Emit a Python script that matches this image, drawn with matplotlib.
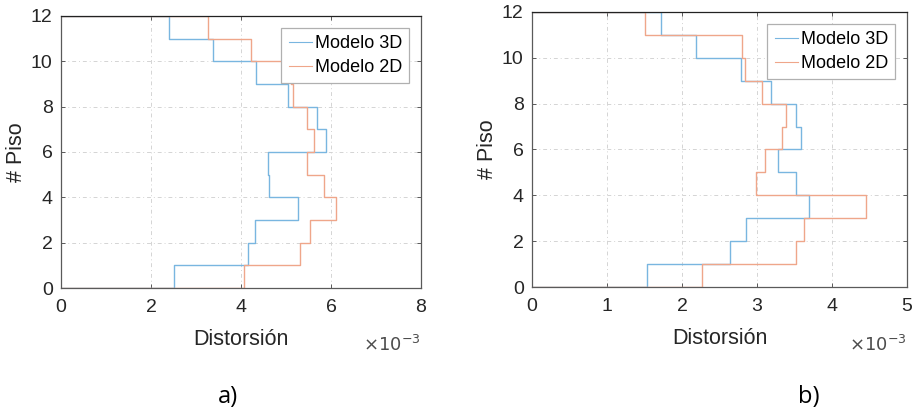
import numpy as np
import matplotlib
matplotlib.use("Agg")
import matplotlib.pyplot as plt

# Inter-story drift per floor (units of 1e-3), floors 1..12
floors = np.arange(0, 13)

drift_3d_a = [2.52, 4.15, 4.30, 5.27, 4.63, 4.59, 5.88, 5.68, 5.04, 4.33, 3.37, 2.39]
drift_2d_a = [4.07, 5.30, 5.53, 6.11, 5.84, 5.47, 5.63, 5.47, 5.16, 5.12, 4.22, 3.26]

drift_3d_b = [1.53, 2.64, 2.85, 3.69, 3.52, 3.28, 3.59, 3.52, 3.18, 2.79, 2.19, 1.72]
drift_2d_b = [2.27, 3.52, 3.63, 4.45, 2.98, 3.10, 3.33, 3.39, 3.07, 2.84, 2.80, 1.50]

series_labels = ["Modelo 3D", "Modelo 2D"]
x_ticks_a = [0, 2, 4, 6, 8]
x_ticks_b = [0, 1, 2, 3, 4, 5]
y_ticks = [0, 2, 4, 6, 8, 10, 12]
panel_tags = ["a)", "b)"]

plt.rcParams["font.family"] = ["Liberation Sans", "DejaVu Sans"]

C_BLUE = "#79b6e0"
C_ORANGE = "#efa68a"
GRID = "#d4d4d4"
SPINE = "#5a5a5a"


def stair_path(drift):
    d = np.asarray(drift, dtype=float)
    x = np.r_[0.0, np.repeat(d, 2), 0.0]
    y = np.r_[0, np.repeat(floors, 2)[1:-1], 12]
    return x, y


def draw_panel(ax, d3, d2, xmax, xticks):
    x3, y3 = stair_path(d3)
    x2, y2 = stair_path(d2)
    ax.plot(x3, y3, color=C_BLUE, lw=1.0, label=series_labels[0])
    ax.plot(x2, y2, color=C_ORANGE, lw=1.0, label=series_labels[1])
    ax.set_xlim(0, xmax)
    ax.set_ylim(0, 12)
    ax.set_xticks(xticks)
    ax.set_yticks(y_ticks)
    ax.grid(True, color=GRID, linestyle=(0, (4, 3, 1, 3)), lw=0.7)
    ax.set_axisbelow(True)
    for s in ax.spines.values():
        s.set_color(SPINE)
        s.set_linewidth(0.9)
    ax.spines["top"].set_color("#222222")
    ax.tick_params(direction="in", length=3, width=0.7, colors=SPINE,
                   labelcolor="#262626", labelsize=14, top=True, right=True)
    ax.tick_params(axis="x", pad=8)
    ax.tick_params(axis="y", pad=6)
    ax.set_xlabel("Distorsión", fontsize=15.5, color="#262626", labelpad=9)
    ax.set_ylabel("# Piso", fontsize=15.5, color="#262626", labelpad=3)
    ax.text(1.0, -0.21, r"$\times10^{-3}$", transform=ax.transAxes,
            ha="right", va="center", fontsize=13, color="#4d4d4d")
    leg = ax.legend(loc="upper right", fontsize=13, frameon=True,
                    fancybox=False, framealpha=1, edgecolor="#b0b0b0",
                    borderaxespad=0.65, borderpad=0.4, labelspacing=0.4,
                    handlelength=1.3, handletextpad=0.15)
    leg.get_frame().set_linewidth(0.9)
    for h in leg.get_lines():
        h.set_linewidth(0.8)


fig = plt.figure(figsize=(9.15, 4.15), dpi=100)
ax_a = fig.add_axes([61 / 915, 1 - 288 / 415, 360 / 915, 272 / 415])
ax_b = fig.add_axes([532 / 915, 1 - 287 / 415, 375 / 915, 275 / 415])

draw_panel(ax_a, drift_3d_a, drift_2d_a, 8, x_ticks_a)
draw_panel(ax_b, drift_3d_b, drift_2d_b, 5, x_ticks_b)

fig.text(228 / 915, 1 - 397 / 415, panel_tags[0], fontsize=17,
         family=["Open Sans", "DejaVu Sans"], ha="center", va="center")
fig.text(809 / 915, 1 - 397 / 415, panel_tags[1], fontsize=17,
         family=["Open Sans", "DejaVu Sans"], ha="center", va="center")

fig.savefig("out.png", dpi=100)
